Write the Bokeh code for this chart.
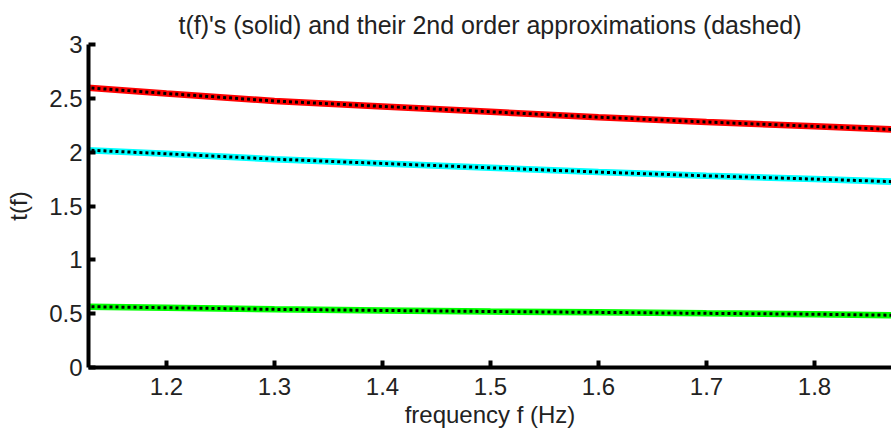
from bokeh.plotting import figure
from bokeh.models import Range1d, FixedTicker
from bokeh.embed import file_html
from bokeh.resources import INLINE

# frequency samples (Hz)
freq = [1.125, 1.2, 1.3, 1.4, 1.5, 1.6, 1.7, 1.8, 1.875]

# exact t(f) curves (solid)
t_red = [2.60, 2.545, 2.475, 2.425, 2.375, 2.325, 2.28, 2.24, 2.21]
t_cyan = [2.02, 1.985, 1.935, 1.895, 1.855, 1.815, 1.78, 1.75, 1.725]
t_green = [0.565, 0.555, 0.54, 0.53, 0.52, 0.512, 0.503, 0.495, 0.485]

# 2nd order approximations (dashed)
a_red = [2.60, 2.545, 2.475, 2.425, 2.375, 2.325, 2.28, 2.24, 2.21]
a_cyan = [2.02, 1.985, 1.935, 1.895, 1.855, 1.815, 1.78, 1.75, 1.725]
a_green = [0.565, 0.555, 0.54, 0.53, 0.52, 0.512, 0.503, 0.495, 0.485]

x_ticks = [1.2, 1.3, 1.4, 1.5, 1.6, 1.7, 1.8]
y_ticks = [0, 0.5, 1, 1.5, 2, 2.5, 3]

FONT = "Liberation Sans"
FS = "24px"

p = figure(width=891, height=431, output_backend="svg", toolbar_location=None,
           x_range=Range1d(1.1278, 1.8713), y_range=Range1d(0, 3),
           title="t(f)'s (solid) and their 2nd order approximations (dashed)",
           min_border_left=88, min_border_right=0, min_border_top=44, min_border_bottom=64)

p.outline_line_color = None
p.background_fill_color = "white"
p.border_fill_color = "white"
p.grid.visible = False

p.title.text_font = FONT
p.title.text_font_size = "25px"
p.title.text_font_style = "normal"
p.title.align = "center"
p.title.text_color = "#222222"
p.title.standoff = 12

for ax in (p.xaxis[0], p.yaxis[0]):
    ax.axis_line_width = 4
    ax.axis_line_color = "black"
    ax.major_tick_in = 7
    ax.major_tick_out = 0
    ax.major_tick_line_width = 4
    ax.minor_tick_line_color = None
    ax.major_label_text_font = FONT
    ax.major_label_text_font_size = FS
    ax.major_label_text_color = "#222222"
    ax.axis_label_text_font = FONT
    ax.axis_label_text_font_size = FS
    ax.axis_label_text_font_style = "normal"
    ax.axis_label_text_color = "#222222"

p.xaxis[0].ticker = FixedTicker(ticks=x_ticks)
p.yaxis[0].ticker = FixedTicker(ticks=y_ticks)
p.xaxis[0].axis_label = "frequency f (Hz)"
p.yaxis[0].axis_label = "t(f)"
p.xaxis[0].major_label_standoff = 10
p.yaxis[0].major_label_standoff = 6
p.xaxis[0].axis_label_standoff = 3
p.yaxis[0].axis_label_standoff = 14
p.xaxis[0].major_label_overrides = {1.2: "1.2", 1.3: "1.3", 1.4: "1.4", 1.5: "1.5", 1.6: "1.6", 1.7: "1.7", 1.8: "1.8"}

for ys, col in ((t_red, "#ff0000"), (t_cyan, "#00ffff"), (t_green, "#00ff00")):
    p.line(freq, ys, line_color=col, line_width=6.5)
for ys in (a_red, a_cyan, a_green):
    p.line(freq, ys, line_color="black", line_width=3, line_dash="3 3", line_cap="butt")

open("out.html", "w").write(file_html(p, INLINE))
